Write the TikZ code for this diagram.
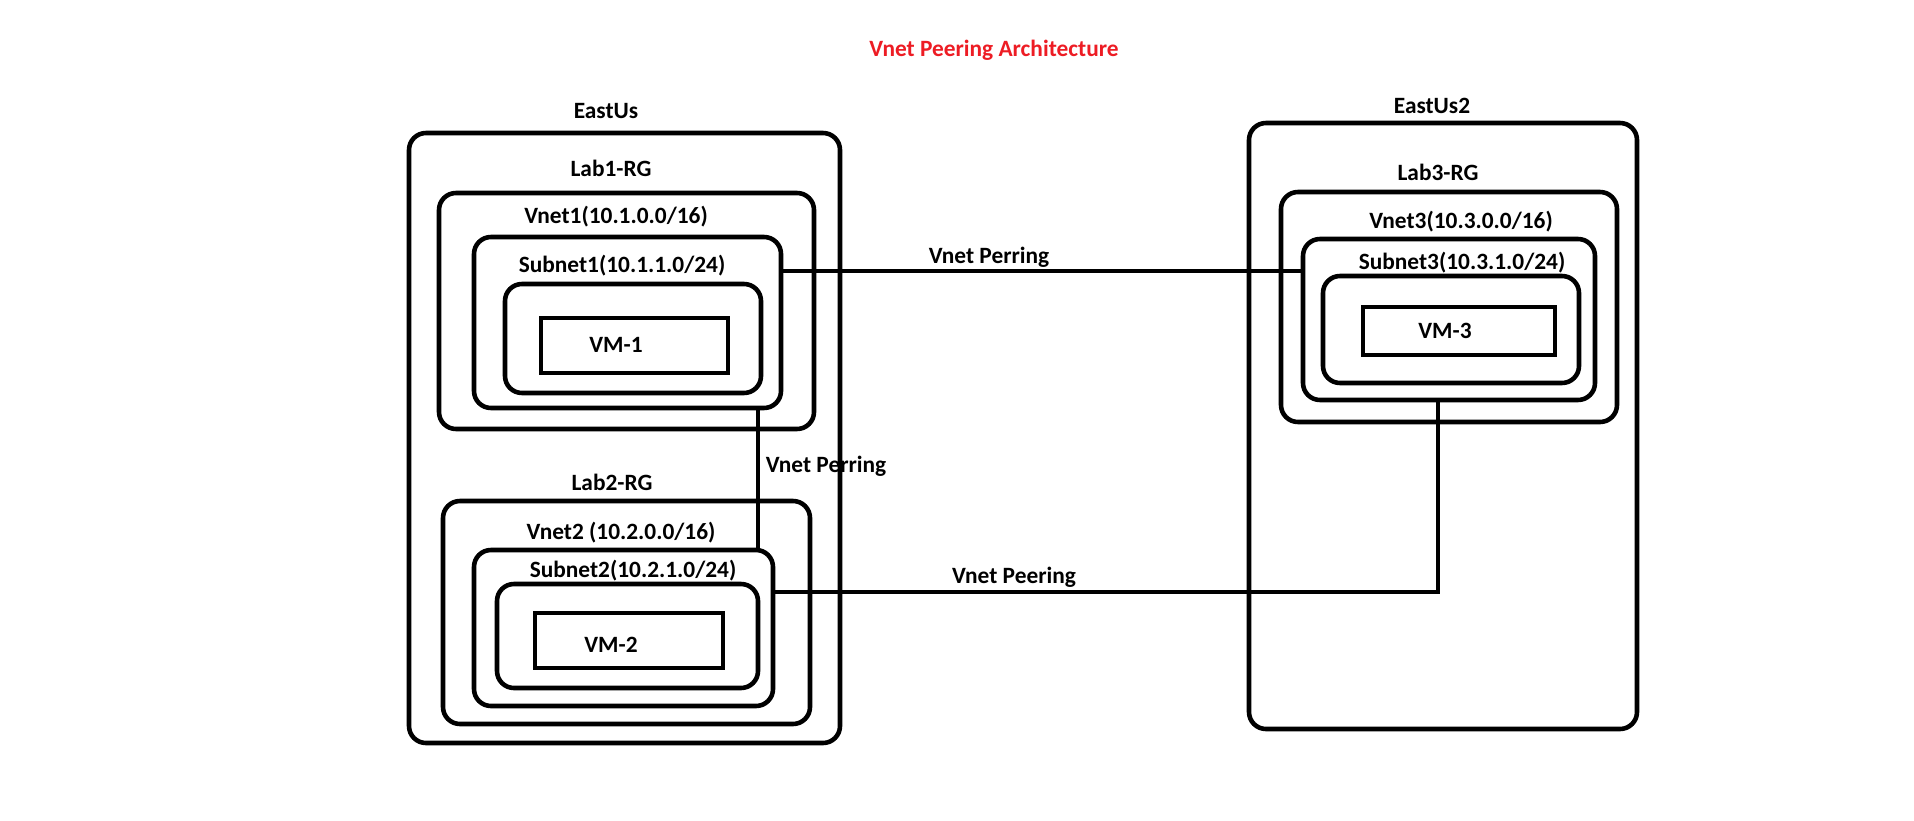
\documentclass[tikz,border=0pt]{standalone}
\usepackage{fontspec}
\setmainfont{Carlito}
\usetikzlibrary{fit}
\definecolor{paintred}{RGB}{237,28,36}
\begin{document}
\begin{tikzpicture}[x=0.02cm,y=-0.02cm,line width=2.6pt,
	box/.style={draw,rounded corners=0.34cm,inner sep=0pt},
	vmbox/.style={draw,inner sep=0pt},
	lbl/.style={font=\fontsize{13.3}{15}\selectfont\bfseries,inner sep=0pt,anchor=base}]
			\useasboundingbox (0,0) rectangle (1914,821);
			\node[lbl,text=paintred] (title) at (994,57) {Vnet Peering Architecture};

			\node[box,fit={(409,133) (840,743)}] (eastus) {};
			\node[lbl] (eastuslbl) at (606,119) {EastUs};
			\node[box,fit={(439,193) (814,429)}] (lab1) {};
			\node[lbl] (lab1lbl) at (611,176) {Lab1-RG};
			\node[box,fit={(474,237) (781,408)}] (vnet1) {};
			\node[lbl] (vnet1lbl) at (616,223) {Vnet1(10.1.0.0/16)};
			\node[box,fit={(505,284) (761,393)}] (subnet1) {};
			\node[lbl] (subnet1lbl) at (622,272) {Subnet1(10.1.1.0/24)};
			\node[vmbox,fit={(541,318) (728,373)}] (vm1) {};
			\node[lbl] (vm1lbl) at (616,352) {VM-1};

			\node[box,fit={(443,501) (810,724)}] (lab2) {};
			\node[lbl] (lab2lbl) at (612,490) {Lab2-RG};
			\node[box,fit={(474,550) (773,706)}] (vnet2) {};
			\node[lbl] (vnet2lbl) at (621,539) {Vnet2 (10.2.0.0/16)};
			\node[box,fit={(497,584) (758,688)}] (subnet2) {};
			\node[lbl] (subnet2lbl) at (633,577) {Subnet2(10.2.1.0/24)};
			\node[vmbox,fit={(535,613) (723,668)}] (vm2) {};
			\node[lbl] (vm2lbl) at (611,652) {VM-2};

			\node[box,fit={(1249,123) (1637,729)}] (eastus2) {};
			\node[lbl] (eastus2lbl) at (1432,113) {EastUs2};
			\node[box,fit={(1281,192) (1617,422)}] (lab3) {};
			\node[lbl] (lab3lbl) at (1438,180) {Lab3-RG};
			\node[box,fit={(1303,239) (1595,400)}] (vnet3) {};
			\node[lbl] (vnet3lbl) at (1461,228) {Vnet3(10.3.0.0/16)};
			\node[box,fit={(1323,276) (1579,383)}] (subnet3) {};
			\node[lbl] (subnet3lbl) at (1462,269) {Subnet3(10.3.1.0/24)};
			\node[vmbox,fit={(1363,307) (1555,355)}] (vm3) {};
			\node[lbl] (vm3lbl) at (1445,338) {VM-3};

			\coordinate (peerA) at (0,271);
			\draw (vnet1.east |- peerA) -- (vnet3.west |- peerA);
			\node[lbl] (peerAlbl) at (989,263) {Vnet Perring};
			\coordinate (peerB) at (758,0);
			\draw (vnet1.south -| peerB) -- (vnet2.north -| peerB);
			\node[lbl] (peerBlbl) at (826,472) {Vnet Perring};
			\coordinate (peerC) at (1438,592);
			\draw (vnet2.east |- peerC) -- (peerC) -- (vnet3.south -| peerC);
			\node[lbl] (peerClbl) at (1014,583) {Vnet Peering};
		\end{tikzpicture}
\end{document}
